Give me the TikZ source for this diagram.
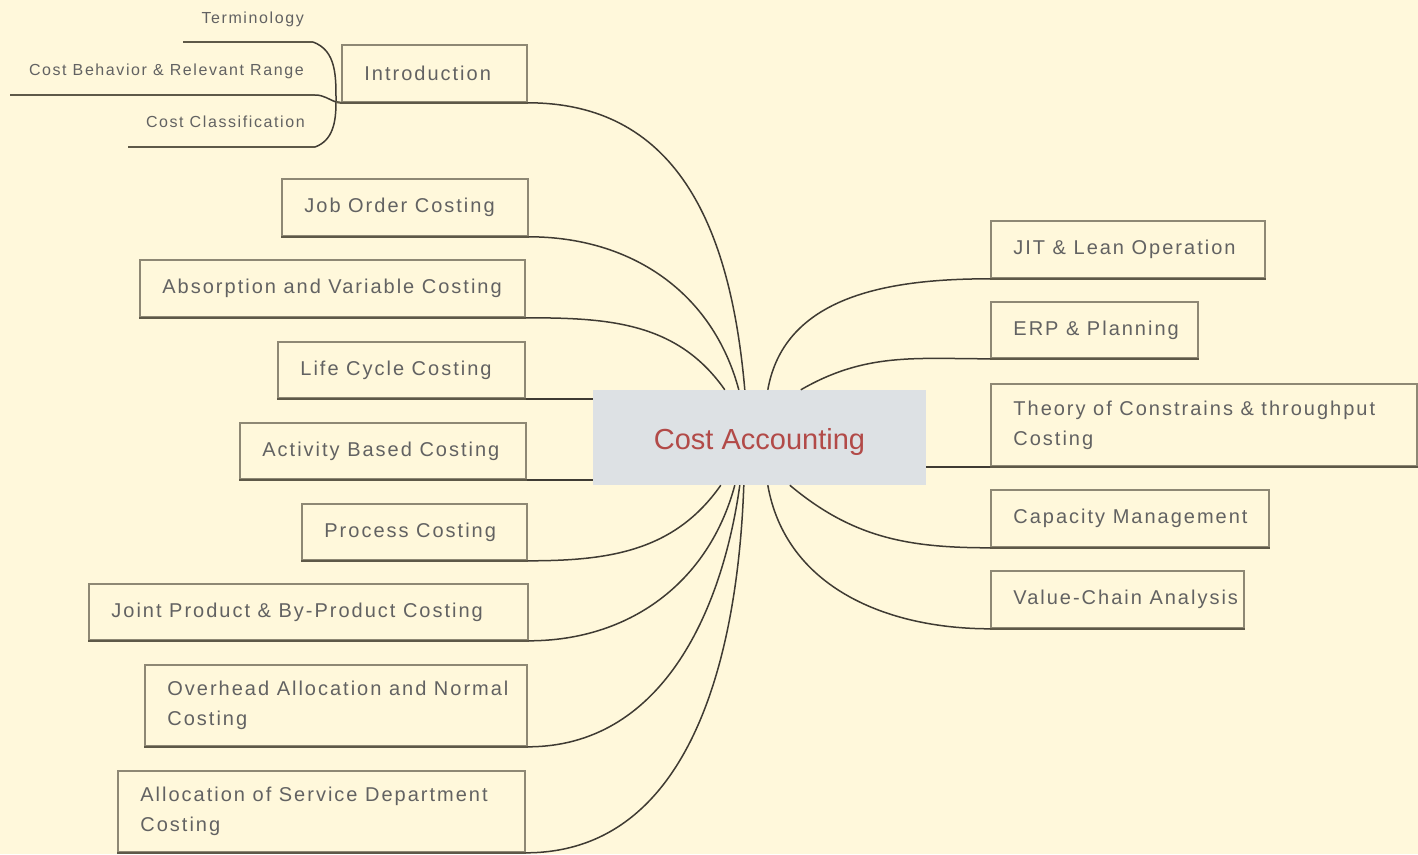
\documentclass[tikz,border=0pt]{standalone}
\usepackage{fontspec}
\setmainfont{Liberation Sans}
\newfontfamily\hand[LetterSpace=10]{Liberation Sans}
\usetikzlibrary{fit}
\definecolor{bg}{HTML}{FFF8DB}
\definecolor{boxline}{HTML}{8E8874}
\definecolor{botline}{HTML}{5E5948}
\definecolor{conncol}{HTML}{3F3B33}
\definecolor{txt}{HTML}{626262}
\definecolor{cfill}{HTML}{DDE1E4}
\definecolor{ctxt}{HTML}{B24A48}
\tikzset{
  box/.style={draw=boxline, line width=1.6pt, inner sep=0pt},
  bot/.style={draw=botline, line width=2.2pt},
  lbl/.style={inner sep=0pt, text=txt, align=left, font=\hand\fontsize{20}{30}\selectfont},
  sublbl/.style={inner sep=0pt, text=txt, font=\hand\fontsize{16}{18}\selectfont},
  conn/.style={draw=conncol, line width=1.5pt},
  subline/.style={draw=botline, line width=2pt},
}
\newcommand\mmbox[6]{%
  \node[box, fit={(#2,#3) (#4,#5)}] (#1) {};
  \draw[bot] (#1.south west) -- (#1.south east);
  \node[lbl, anchor=west] at ([xshift=23pt]#1.west) {#6};
}
\begin{document}
\begin{tikzpicture}[x=1pt,y=-1pt]
\fill[bg] (0,0) rectangle (1418,854);
\useasboundingbox (0,0) rectangle (1418,854);

% center
\node[fill=cfill, inner sep=0pt, fit={(593,390) (926,485)}] (ca) {};
\node[inner sep=0pt, text=ctxt, font=\fontsize{29}{34}\selectfont] at ([yshift=-4pt]ca.center) {Cost Accounting};

% left boxes
\mmbox{intro}{342}{45}{527}{102}{Introduction}
\mmbox{job}{282}{179}{528}{236}{Job Order Costing}
\mmbox{abs}{140}{260}{525}{317}{Absorption and Variable Costing}
\mmbox{life}{278}{342}{525}{398}{Life Cycle Costing}
\mmbox{abc}{240}{423}{526}{479}{Activity Based Costing}
\mmbox{proc}{302}{504}{527}{560}{Process Costing}
\mmbox{joint}{89}{584}{528}{640}{Joint Product \& By-Product Costing}
\mmbox{ovh}{145}{665}{527}{746}{Overhead Allocation and Normal\\Costing}
\mmbox{alloc}{118}{771}{525}{852}{Allocation of Service Department\\Costing}

% right boxes
\mmbox{jit}{991}{221}{1265}{278}{JIT \& Lean Operation}
\mmbox{erp}{991}{302}{1198}{358}{ERP \& Planning}
\mmbox{toc}{991}{384}{1417}{466}{Theory of Constrains \& throughput\\Costing}
\mmbox{cap}{991}{490}{1269}{547}{Capacity Management}
\mmbox{vca}{991}{571}{1244}{628}{Value-Chain Analysis}

% introduction sub-topics
\coordinate (j) at (336,102);
\node[sublbl, anchor=base east] (t1) at (304,23) {Terminology};
\node[sublbl, anchor=base east] (t2) at (304,75) {Cost Behavior \& Relevant Range};
\node[sublbl, anchor=base east] (t3) at (305,127) {Cost Classification};
\coordinate (t1s) at (183,42); \coordinate (t1e) at (313,42);
\coordinate (t2s) at (10,95);  \coordinate (t2e) at (315,95);
\coordinate (t3s) at (128,147); \coordinate (t3e) at (315,147);
\draw[subline] (t1s) -- (t1e);
\draw[subline] (t2s) -- (t2e);
\draw[subline] (t3s) -- (t3e);
\draw[conn] (t1e) to[out=-20,in=90] (j);
\draw[conn] (t2e) to[out=0,in=160] (j);
\draw[conn] (t3e) to[out=20,in=-90] (j);
\draw[bot] (j) -- (intro.south west);

% connectors left
\draw[conn] (intro.south east) to[out=0,in=95,looseness=1.1] ([xshift=152pt]ca.north west);
\draw[conn] (job.south east) to[out=0,in=105] ([xshift=146pt]ca.north west);
\draw[conn] (abs.south east) to[out=0,in=125] ([xshift=132pt]ca.north west);
\draw[conn] (life.south east) -- (life.south east -| ca.west);
\draw[conn] (abc.south east) -- (abc.south east -| ca.west);
\draw[conn] (proc.south east) to[out=0,in=-125] ([xshift=128pt]ca.south west);
\draw[conn] (joint.south east) to[out=0,in=-105] ([xshift=142pt]ca.south west);
\draw[conn] (ovh.south east) to[out=0,in=-98] ([xshift=147pt]ca.south west);
\draw[conn] (alloc.south east) to[out=0,in=-92] ([xshift=151pt]ca.south west);

% connectors right
\draw[conn] ([xshift=175pt]ca.north west) to[out=80,in=180] (jit.south west);
\draw[conn] ([xshift=208pt]ca.north west) to[out=30,in=180] (erp.south west);
\draw[conn] (toc.south west -| ca.east) -- (toc.south west);
\draw[conn] ([xshift=197pt]ca.south west) to[out=-40,in=180] (cap.south west);
\draw[conn] ([xshift=175pt]ca.south west) to[out=-80,in=180] (vca.south west);
\end{tikzpicture}
\end{document}
